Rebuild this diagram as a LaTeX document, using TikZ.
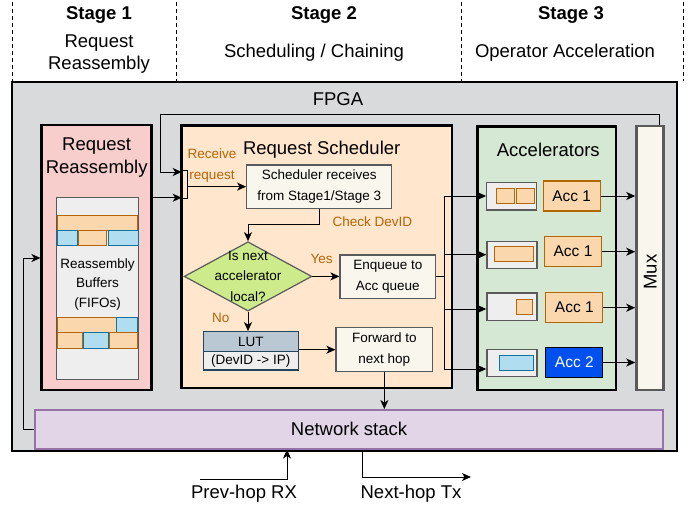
\documentclass[tikz,border=0pt]{standalone}
\usepackage{fontspec}
\setmainfont{Liberation Sans}
\usetikzlibrary{arrows.meta,shapes.geometric,calc}

\definecolor{fpgagray}{HTML}{D9DADC}
\definecolor{reasmred}{HTML}{F8CECC}
\definecolor{schedpeach}{HTML}{FFE6CC}
\definecolor{accgreen}{HTML}{D5E8D4}
\definecolor{orfill}{HTML}{FAD7AC}
\definecolor{ordraw}{HTML}{B46504}
\definecolor{blfill}{HTML}{B1DDF0}
\definecolor{bldraw}{HTML}{10739E}
\definecolor{boxfill}{HTML}{F9F7ED}
\definecolor{boxdraw}{HTML}{5A5A5A}
\definecolor{qfill}{HTML}{EEEEEE}
\definecolor{diafill}{HTML}{CDEB8B}
\definecolor{luthead}{HTML}{BAC8D3}
\definecolor{lutdraw}{HTML}{23445D}
\definecolor{netfill}{HTML}{E1D5E7}
\definecolor{netdraw}{HTML}{9673A6}
\definecolor{acctwo}{HTML}{0050EF}
\definecolor{labelor}{HTML}{B46504}

\begin{document}
\begin{tikzpicture}[x=1pt,y=-1pt,
  font=\fontsize{13.5}{20.4}\selectfont,
  box/.style={draw, inner sep=0pt, align=center},
  bigbox/.style={box, line width=2.5pt},
  proc/.style={box, fill=boxfill, draw=boxdraw, line width=1.2pt},
  queue/.style={box, fill=qfill, draw=boxdraw, line width=1.2pt,
    minimum width=50pt, minimum height=27.5pt},
  accone/.style={box, fill=orfill, draw=ordraw, line width=1.2pt,
    minimum width=57pt, minimum height=30pt, font=\fontsize{15.5}{18}\selectfont},
  obar/.style={fill=orfill, draw=ordraw, line width=1pt},
  bbar/.style={fill=blfill, draw=bldraw, line width=1pt},
  arr/.style={line width=1pt, -{Stealth[length=9pt,width=8pt,inset=2.5pt]}},
  conn/.style={line width=1pt},
  largetext/.style={font=\fontsize{18.5}{22.8}\selectfont, inner sep=0pt, align=center},
  note/.style={text=labelor, inner sep=0pt, align=center},
  stagehead/.style={font=\fontsize{18.5}{22.5}\selectfont\bfseries, inner sep=0pt},
  stagesep/.style={dashed, line width=0.8pt, dash pattern=on 4pt off 3pt},
]
\useasboundingbox (0,0) rectangle (697,504);

% ---- stage header ----
\foreach \xx in {12,176,461,683} \draw[stagesep] (\xx,2) -- (\xx,81);
\node[stagehead] (s1) at (99,15) {Stage 1};
\node[stagehead] (s2) at (324,15) {Stage 2};
\node[stagehead] (s3) at (571,15) {Stage 3};
\node[largetext] (s1sub) at (99,54) {Request\\Reassembly};
\node[largetext] (s2sub) at (314,53) {Scheduling / Chaining};
\node[largetext] (s3sub) at (565,53) {Operator Acceleration};

% ---- FPGA frame ----
\node[box, fill=fpgagray, line width=2pt, minimum width=665.6pt, minimum height=369pt]
  (fpga) at (344.5,266.3) {};
\node[largetext] (fpgalbl) at (338,99) {FPGA};

% ---- network stack ----
\node[box, fill=netfill, draw=netdraw, line width=2pt, minimum width=628pt,
  minimum height=38.5pt, largetext] (net) at (349,429.3) {Network stack};

% ---- stage 1: request reassembly ----
\node[bigbox, fill=reasmred, minimum width=110pt, minimum height=265pt] (reasm) at (96.7,257.5) {};
\node[largetext] (reasmlbl) at (96.7,157.5) {Request\\Reassembly};
\node[box, fill=qfill, draw=boxdraw, line width=1.2pt, minimum width=81.6pt,
  minimum height=181.6pt] (buf) at (97.5,288.5) {};
\draw[obar] (57.3,215.7) rectangle (137.3,230.3);
\draw[bbar] (57.3,230.3) rectangle (77.2,245.3);
\draw[obar] (78.3,230.3) rectangle (106.7,245.3);
\draw[bbar] (108,230.3) rectangle (138,245.3);
\node[inner sep=0pt, align=center, font=\fontsize{13.5}{19.5}\selectfont] (buflbl) at (97.5,284.5)
  {Reassembly\\Buffers\\(FIFOs)};
\draw[obar] (57.3,317.3) rectangle (116,332.2);
\draw[bbar] (116.3,317.3) rectangle (137.3,332.2);
\draw[obar] (57.3,332.3) rectangle (82.7,348);
\draw[bbar] (83.3,332.3) rectangle (108.7,348);
\draw[obar] (109,332.3) rectangle (137.3,348);

% ---- stage 2: request scheduler ----
\node[bigbox, fill=schedpeach, minimum width=270.3pt, minimum height=262.5pt] (sched) at (316.85,256.75) {};
\node[largetext] (schedlbl) at (321.7,149.3) {Request Scheduler};
\node[box, line width=1pt, minimum width=5.6pt, minimum height=27.6pt] (rxbar) at (184.5,184.5) {};
\node[note] (recvlbl) at (212,165.4) {Receive\\request};
\node[proc, minimum width=145pt, minimum height=43.3pt] (recv) at (319.2,186.65)
  {Scheduler receives\\from Stage1/Stage 3};
\node[note] (chklbl) at (372.3,221.7) {Check DevID};
\node[diamond, draw=boxdraw, fill=diafill, line width=1.2pt, inner sep=0pt,
  minimum width=127.7pt, minimum height=69.3pt,
  label={[align=center, inner sep=0pt]center:Is next\\accelerator\\local?}] (dia) at (248,276.4) {};
\node[note] (yeslbl) at (321.7,259.3) {Yes};
\node[note] (nolbl) at (220.7,317.7) {No};
\node[proc, minimum width=95.7pt, minimum height=43.3pt] (enq) at (387.85,276.65) {Enqueue to\\Acc queue};
\node[box, fill=luthead, draw=lutdraw, line width=1.2pt, minimum width=95pt, minimum height=20pt]
  (luth) at (250.8,341.7) {LUT};
\node[box, fill=qfill, draw=lutdraw, line width=1.2pt, minimum width=95pt, minimum height=18.3pt]
  (lutl) at (250.8,360.85) {(DevID -> IP)};
\node[proc, minimum width=96.7pt, minimum height=44pt] (fwd) at (384.35,349.7) {Forward to\\next hop};

% ---- stage 3: accelerators and mux ----
\node[bigbox, fill=accgreen, minimum width=138.7pt, minimum height=263.5pt] (accs) at (546.65,258.25) {};
\node[largetext] (accslbl) at (548.3,150) {Accelerators};
\node[queue] (q1) at (511.7,196.2) {};
\node[queue] (q2) at (511.9,255) {};
\node[queue] (q3) at (511.9,306.7) {};
\node[queue] (q4) at (511.9,362.9) {};
\draw[obar] (496.7,188.3) rectangle (514.3,203.3);
\draw[obar] (516,188.3) rectangle (534,203.3);
\draw[obar] (494.3,246.7) rectangle (533.3,261.7);
\draw[obar] (516,299) rectangle (532.7,314);
\draw[bbar] (499.3,355.3) rectangle (533.3,370);
\node[accone] (a1) at (571.7,196) {Acc 1};
\node[accone] (a2) at (573,251.7) {Acc 1};
\node[accone] (a3) at (574.3,307.7) {Acc 1};
\node[accone, fill=acctwo, draw=black, text=white] (a4) at (574.3,362.5) {Acc 2};
\node[box, fill=boxfill, draw=boxdraw, line width=2.5pt, minimum width=27.2pt,
  minimum height=264pt] (mux) at (650.1,258) {};
\node[largetext, rotate=90] (muxlbl) at (650.3,272) {Mux};

% ---- connectors ----
\coordinate (fbR) at (659.3,114);
\coordinate (fbL) at (160.7,114);
\coordinate (in1) at (181.7,172);
\coordinate (in2) at (181.7,197.7);
\draw[arr] (mux.north -| fbR) -- (fbR) -- (fbL) |- (in1);
\draw[arr] (reasm.east |- in2) -- (in2);
\draw[arr] (rxbar.east |- recv.west) -- (recv.west);
\draw[arr] (recv.south) -- ++(0,16) -| (dia.north);
\draw[arr] (dia.east) -- (enq.west |- dia.east);
\draw[arr] (dia.south) -- (dia.south |- luth.north);
\draw[arr] (luth.south east |- fwd.west) -- (fwd.west);
\draw[arr] (fwd.south) -- (fwd.south |- net.north);

\coordinate (b1) at (444,196);
\coordinate (b2) at (444,254.7);
\coordinate (b3) at (444,309);
\coordinate (b4) at (444,369);
\draw[conn] (b1) -- (b4);
\draw[conn] (enq.east) -- (enq.east -| b1);
\draw[arr] (b1) -- (q1.west |- b1);
\draw[arr] (b2) -- (q2.west |- b2);
\draw[arr] (b3) -- (q3.west |- b3);
\draw[arr] (b4) -- (q4.west |- b4);

\draw[arr] (a1.east) -- (mux.west |- a1.east);
\draw[arr] (a2.east) -- (mux.west |- a2.east);
\draw[arr] (a3.east) -- (mux.west |- a3.east);
\draw[arr] (a4.east) -- (mux.west |- a4.east);

\coordinate (loopL) at (23.3,258);
\draw[arr] (net.west) -| (loopL) -- (reasm.west |- loopL);

% ---- external links ----
\coordinate (rxs) at (200,479);
\coordinate (rxc) at (287,479);
\coordinate (txc) at (362,477);
\coordinate (txe) at (471,477);
\draw[arr] (rxs) -- (rxc) -- (rxc |- net.south);
\draw[arr] (net.south -| txc) -- (txc) -- (txe);
\node[largetext] (rxlbl) at (244,494) {Prev-hop RX};
\node[largetext] (txlbl) at (411,494) {Next-hop Tx};
\end{tikzpicture}
\end{document}
